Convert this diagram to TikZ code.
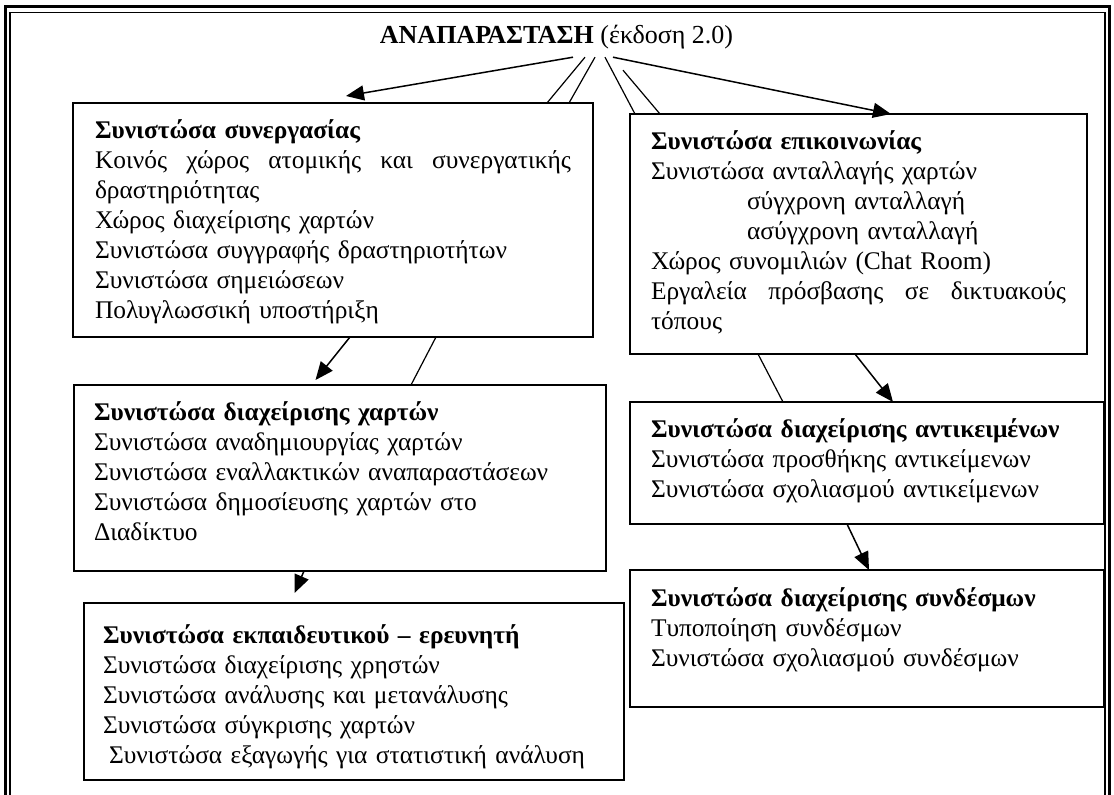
\documentclass[tikz,border=0pt]{standalone}
\usepackage{fontspec}
\setmainfont{Liberation Serif}
\usepackage{tikz}
\usetikzlibrary{arrows.meta}

\begin{document}
\begin{tikzpicture}[
    x=1pt, y=-1pt,
    unit/.style={draw, line width=2pt, anchor=north west, outer sep=0pt,
                 inner ysep=0pt, inner xsep=#1, align=left,
                 font=\fontsize{25.4}{30}\selectfont},
    heading/.style={anchor=base, inner xsep=0pt, inner ysep=8pt,
                    text depth=6pt, font=\fontsize{26}{30}\selectfont},
    flow/.style={-{Triangle[length=18pt,width=15pt]}, line width=1.5pt},
    link/.style={line width=1.2pt},
]
    \useasboundingbox (0,0) rectangle (1114,795);

    % Page frame: double rule, open at the bottom
    \draw[line width=3pt] (5,795) -- (5,6) -- (1109.5,6) -- (1109.5,795);
    \draw[line width=1.5pt] (10,795) -- (10,12.5) -- (1105,12.5) -- (1105,795);

    % Title
    \node[heading] (title) at (556.5,43) {\textbf{ΑΝΑΠΑΡΑΣΤΑΣΗ} (έκδοση 2.0)};

    % Row 1: collaboration + communication
    \node[unit=22pt, text width=476pt, text height=35pt, text depth=199pt] (collab) at (73,103) {
        \textbf{Συνιστώσα συνεργασίας}\\
        Κοινός\hfill χώρος\hfill ατομικής\hfill και\hfill συνεργατικής\\
        δραστηριότητας\\
        Χώρος διαχείρισης χαρτών\\
        Συνιστώσα συγγραφής δραστηριοτήτων\\
        Συνιστώσα σημειώσεων\\
        Πολυγλωσσική υποστήριξη
    };
    \node[unit=21pt, text width=415pt, text height=35.5pt, text depth=204.5pt] (comm) at (630,114) {
        \textbf{Συνιστώσα επικοινωνίας}\\
        Συνιστώσα ανταλλαγής χαρτών\\
        \hspace*{96pt}σύγχρονη ανταλλαγή\\
        \hspace*{96pt}ασύγχρονη ανταλλαγή\\
        Χώρος συνομιλιών (Chat Room)\\
        Εργαλεία\hfill πρόσβασης\hfill σε\hfill δικτυακούς\\
        τόπους
    };

    % Row 2: maps + objects
    \node[unit=20pt, text width=492pt, text height=35pt, text depth=151pt] (maps) at (74,385) {
        \textbf{Συνιστώσα διαχείρισης χαρτών}\\
        Συνιστώσα αναδημιουργίας χαρτών\\
        Συνιστώσα εναλλακτικών αναπαραστάσεων\\
        Συνιστώσα δημοσίευσης χαρτών στο\\
        Διαδίκτυο
    };
    \node[unit=21pt, text width=432pt, text height=35pt, text depth=87pt] (objects) at (630,402) {
        \textbf{Συνιστώσα διαχείρισης αντικειμένων}\\
        Συνιστώσα προσθήκης αντικείμενων\\
        Συνιστώσα σχολιασμού αντικείμενων
    };

    % Row 3: links + teacher
    \node[unit=21pt, text width=432pt, text height=36pt, text depth=101pt] (links) at (630,570) {
        \textbf{Συνιστώσα διαχείρισης συνδέσμων}\\
        Τυποποίηση συνδέσμων\\
        Συνιστώσα σχολιασμού συνδέσμων
    };
    \node[unit=19pt, text width=502pt, text height=40pt, text depth=137pt] (teacher) at (84,603) {
        \textbf{Συνιστώσα εκπαιδευτικού – ερευνητή}\\
        Συνιστώσα διαχείρισης χρηστών\\
        Συνιστώσα ανάλυσης και μετανάλυσης\\
        Συνιστώσα σύγκρισης χαρτών\\
        \hspace*{6pt}Συνιστώσα εξαγωγής για στατιστική ανάλυση
    };

    % Connections from the title
    \draw[flow] ([xshift=16.5pt]title.south) -- ([xshift=273pt,yshift=7pt]collab.north west);
    \draw[link] ([xshift=28.5pt]title.south) -- ([xshift=474pt]collab.north west);
    \draw[link] ([xshift=38.5pt]title.south) -- ([xshift=496pt]collab.north west);
    \draw[link] ([xshift=48.5pt]title.south) -- ([xshift=5pt]comm.north west);
    \draw[link] ([xshift=66.5pt,yshift=-13pt]title.south) -- ([xshift=30pt]comm.north west);
    \draw[flow] ([xshift=56.5pt]title.south) -- ([xshift=261pt]comm.north west);

    % Connections between boxes
    \draw[flow] ([xshift=277pt]collab.south west) -- ([xshift=241.5pt,yshift=5pt]maps.north west);
    \draw[link] ([xshift=363pt]collab.south west) -- ([xshift=337pt]maps.north west);
    \draw[flow] ([xshift=230pt]maps.south west) -- ([xshift=210.5pt,yshift=10pt]teacher.north west);
    \draw[link] ([xshift=128pt]comm.south west) -- ([xshift=153pt]objects.north west);
    \draw[flow] ([xshift=225pt]comm.south west) -- ([xshift=263pt]objects.north west);
    \draw[flow] ([xshift=217pt]objects.south west) -- ([xshift=239pt]links.north west);
\end{tikzpicture}
\end{document}
